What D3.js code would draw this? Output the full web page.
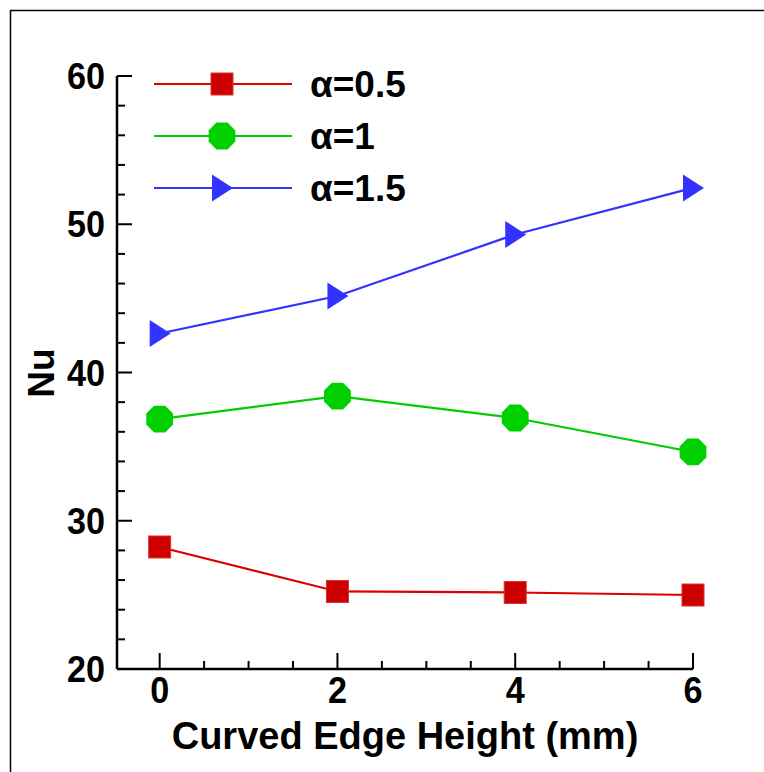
<!DOCTYPE html>
<html><head><meta charset="utf-8">
<script src="https://cdn.jsdelivr.net/npm/d3@7/dist/d3.min.js"></script>
<style>body{margin:0;background:#fff}svg{display:block}</style>
</head><body>
<script>
const xValues = [0, 2, 4, 6];
const series05 = [28.23, 25.23, 25.16, 24.99];
const series1 = [36.86, 38.41, 36.93, 34.64];
const series15 = [42.63, 45.16, 49.31, 52.45];
const seriesNames = ["α=0.5", "α=1", "α=1.5"];
const xTicks = [0, 2, 4, 6];
const yTicks = [20, 30, 40, 50, 60];
const xLabel = "Curved Edge Height (mm)";
const yLabel = "Nu";

const W = 764, H = 772;
const svg = d3.select("body").append("svg").attr("width", W).attr("height", H);
const font = "'Liberation Sans', Arial, sans-serif";

// outer frame (top & left visible)
svg.append("line").attr("x1",10).attr("x2",W).attr("y1",10.5).attr("y2",10.5).attr("stroke","#000").attr("stroke-width",1.5);
svg.append("line").attr("x1",10.5).attr("x2",10.5).attr("y1",10).attr("y2",H).attr("stroke","#000").attr("stroke-width",1.5);

const x = d3.scaleLinear().domain([-0.48, 6]).range([117, 693]);
const y = d3.scaleLinear().domain([20, 60]).range([669, 76]);

const colors = ["#dd0000", "#00cc00", "#3333ff"];
const fills = ["#cc0000", "#00d000", "#3333ff"];
const data = [series05, series1, series15];

// axes
const ax = svg.append("g").attr("stroke","#000").attr("stroke-width",2.5).attr("fill","none");
ax.append("line").attr("x1",x(-0.48)).attr("x2",x(6)).attr("y1",y(20)).attr("y2",y(20));
ax.append("line").attr("x1",x(-0.48)).attr("x2",x(-0.48)).attr("y1",y(20)).attr("y2",y(60));
d3.range(20, 60.01, 2).forEach(v => {
  const major = yTicks.includes(v);
  ax.append("line").attr("x1",x(-0.48)).attr("x2",x(-0.48)+(major?15:8))
    .attr("y1",y(v)).attr("y2",y(v)).attr("stroke-width",2);
});
d3.range(0, 6.01, 0.5).forEach(v => {
  const major = xTicks.includes(v);
  ax.append("line").attr("x1",x(v)).attr("x2",x(v))
    .attr("y1",y(20)).attr("y2",y(20)-(major?16:8)).attr("stroke-width",2);
});
svg.selectAll(".ytl").data(yTicks).enter().append("text")
  .attr("transform", d=>`translate(105,${y(d)+13}) scale(0.95,1)`).attr("text-anchor","end")
  .attr("font-family",font).attr("font-weight","bold").attr("font-size",36).text(d=>d);
svg.selectAll(".xtl").data(xTicks).enter().append("text")
  .attr("transform", d=>`translate(${x(d)},703) scale(0.95,1)`).attr("text-anchor","middle")
  .attr("font-family",font).attr("font-weight","bold").attr("font-size",36).text(d=>d);
svg.append("text").attr("x",405).attr("y",749).attr("text-anchor","middle")
  .attr("font-family",font).attr("font-weight","bold").attr("font-size",38).text(xLabel);
svg.append("text").attr("transform","translate(54,373) rotate(-90)").attr("text-anchor","middle")
  .attr("font-family",font).attr("font-weight","bold").attr("font-size",37).text(yLabel);

function marker(g, i, cx, cy) {
  if (i === 0) {
    g.append("rect").attr("x",cx-11).attr("y",cy-11).attr("width",22).attr("height",22)
      .attr("fill",fills[0]).attr("stroke","#e03030").attr("stroke-width",1);
  } else if (i === 1) {
    const r = 14.5;
    const pts = d3.range(8).map(k => { const a = Math.PI/8 + k*Math.PI/4; return [cx + r*Math.cos(a), cy + r*Math.sin(a)]; });
    g.append("polygon").attr("points", pts.map(p=>p.join(",")).join(" ")).attr("fill",fills[1]);
  } else {
    g.append("polygon").attr("points", [[cx-10,cy-13.5],[cx+11,cy],[cx-10,cy+13.5]].map(p=>p.join(",")).join(" "))
      .attr("fill",fills[2]);
  }
}

const line = d3.line().x((d,i)=>x(xValues[i])).y(d=>y(d));
data.forEach((s, i) => {
  svg.append("path").attr("d", line(s)).attr("fill","none").attr("stroke",colors[i]).attr("stroke-width",2.2);
  const g = svg.append("g");
  s.forEach((v, j) => marker(g, i, x(xValues[j]), y(v)));
});

const legY = [84, 136, 188];
seriesNames.forEach((name, i) => {
  svg.append("line").attr("x1",154).attr("x2",292).attr("y1",legY[i]).attr("y2",legY[i])
    .attr("stroke",colors[i]).attr("stroke-width",2.2);
  marker(svg.append("g"), i, 222, legY[i]);
  svg.append("text").attr("x",310).attr("y",legY[i]+13).attr("font-family",font).attr("font-weight","bold")
    .attr("font-size",37).text(name);
});
</script>
</body></html>
